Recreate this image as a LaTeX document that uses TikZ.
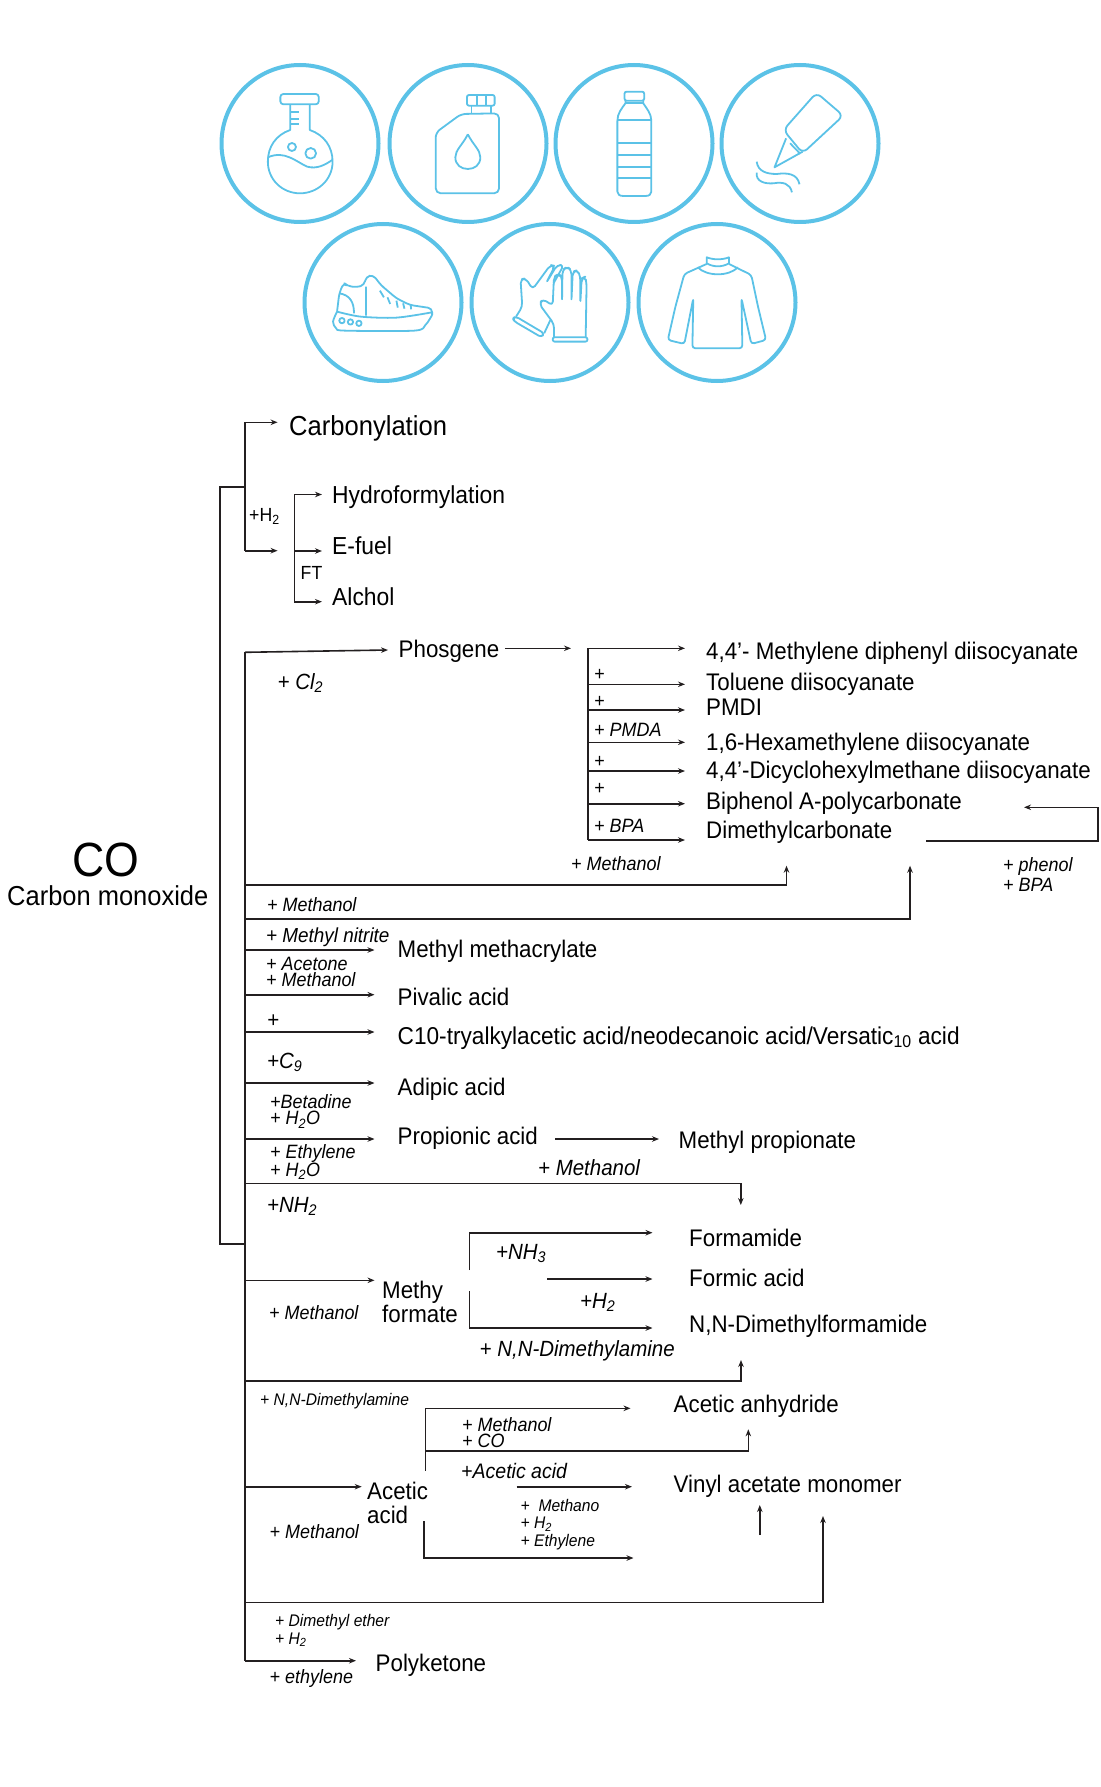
\documentclass[tikz,border=0pt]{standalone}
\usepackage{fontspec}
\setmainfont[FakeStretch=0.93]{Liberation Sans}
\usepackage{xcolor}
\usetikzlibrary{positioning, arrows, arrows.meta}
\definecolor{badgeblue}{HTML}{5BC2E7}
\definecolor{inkblack}{HTML}{231F20}
\tikzset{
  line/.style={draw=inkblack, line width=1.6pt},
  flow/.style={line, -{Stealth[length=7pt, width=5.5pt]}},
  badge/.style={circle, draw=badgeblue, line width=4pt, minimum size=157pt, inner sep=0pt},
  icon/.style={draw=badgeblue, line width=1.8pt, line join=round},
  txt/.style={anchor=west, inner sep=0pt, yshift=-1.5pt},
  head/.style={txt, text height=19pt, text depth=6pt, font=\fontsize{27.5}{27.5}\selectfont},
  product/.style={txt, text height=18pt, text depth=5pt, font=\fontsize{24}{24}\selectfont},
  productbig/.style={product, font=\fontsize{24.6}{24.6}\selectfont},
  twoline/.style={txt, align=left, font=\fontsize{24}{24.5}\selectfont},
  plain/.style={txt, font=\fontsize{19}{19}\selectfont},
  reagent/.style={txt, align=left, font=\fontsize{19.3}{16}\itshape\selectfont},
  reagentbig/.style={txt, font=\fontsize{22}{22}\itshape\selectfont},
  reagentsmall/.style={txt, align=left, font=\fontsize{16.8}{17.5}\itshape\selectfont},
}
\begin{document}
\begin{tikzpicture}[x=1pt, y=-1pt]
  \useasboundingbox (0,0) rectangle (1100,1787);

  % product badges
  \node[badge] (flask) at (300,143.5) {};
  \node[badge] (can) at (468,143.5) {};
  \node[badge] (bottle) at (634,143.5) {};
  \node[badge] (glue) at (800,143.5) {};
  \node[badge] (shoe) at (383,302.5) {};
  \node[badge] (gloves) at (550,302.5) {};
  \node[badge] (sweater) at (717,302.5) {};

  % icons, in crop coordinates
  \begin{scope}[shift={(200,50)}, x=0.4464pt, y=-0.3333pt, icon]
    \draw[rounded corners=3pt] (180,132) rectangle (266,163);
    \draw (202,163) -- (202,240) .. controls (170,255) and (152,290) .. (152,335)
      .. controls (152,390) and (185,430) .. (224,430)
      .. controls (263,430) and (297,390) .. (297,335)
      .. controls (297,290) and (278,255) .. (246,240) -- (246,163);
    \draw (202,185) -- (222,185) (202,207) -- (222,207) (202,222) -- (222,222);
    \draw (152,322) .. controls (190,300) and (215,335) .. (240,350) .. controls (262,358) and (280,345) .. (296,330);
    \draw (206,291) ellipse [x radius=9, y radius=12];
    \draw (248,310) ellipse [x radius=12, y radius=16];
    % can
    \draw[rounded corners=2pt] (598,135) rectangle (660,167);
    \draw (620,135) -- (620,167) (640,135) -- (640,167) (608,167) -- (608,190) (652,167) -- (652,190);
    \draw[rounded corners=5pt] (585,192) -- (670,190) -- (670,430) -- (528,430) -- (528,248) -- cycle;
    \draw (600,253) .. controls (588,285) and (572,300) .. (572,322) .. controls (572,345) and (585,357) .. (600,357)
      .. controls (615,357) and (628,345) .. (628,322) .. controls (628,300) and (612,285) .. (600,253);
    % bottle
    \draw[rounded corners=2pt] (951,125) rectangle (995,152);
    \draw (953,152) -- (953,160) .. controls (945,175) and (935,190) .. (935,212) -- (935,425)
      .. controls (935,433) and (940,438) .. (948,438) -- (998,438) .. controls (1006,438) and (1011,433) .. (1011,425)
      -- (1011,212) .. controls (1011,190) and (1000,175) .. (993,160) -- (993,152);
    \draw (953,160) -- (993,160) (935,210) -- (1011,210) (935,280) -- (1011,280) (935,315) -- (1011,315)
      (935,350) -- (1011,350) (935,385) -- (1011,385);
    % glue
    \draw[rounded corners=6pt] (1381,128) -- (1441,197) -- (1350,310) -- (1307,240) -- cycle;
    \draw (1313,265) -- (1287,352) -- (1350,305) (1322,280) -- (1345,312);
    \draw (1247,335) .. controls (1250,365) and (1270,372) .. (1292,372) .. controls (1315,368) and (1338,370) .. (1343,403);
    \draw (1247,368) .. controls (1245,395) and (1265,402) .. (1285,400) .. controls (1305,395) and (1322,400) .. (1326,427);
    % shoe
    \draw plot[smooth] coordinates {(307,785) (298,815) (305,835) (325,842) (480,842) (505,825) (520,795)};
    \draw[rounded corners=4pt] (520,795) -- (520,775) -- (470,765) -- (440,745) -- (405,705) -- (388,675) -- (372,680) -- (368,705)
      -- (352,712) -- (330,708) -- (322,698) -- (312,730) -- (307,785);
    \draw plot[smooth] coordinates {(307,785) (360,800) (440,803) (520,787)};
    \draw (312,730) .. controls (335,735) and (345,755) .. (345,790) (372,710) -- (372,797);
    \draw (403,722) -- (412,742) (420,742) -- (426,762) (440,752) -- (443,773) (455,760) -- (458,776) (472,765) -- (473,778);
    \draw (318,812) ellipse [x radius=6, y radius=8] (337,816) ellipse [x radius=6, y radius=8] (356,820) ellipse [x radius=6, y radius=8];
    % gloves
    \draw[rounded corners=3pt] (700,805) -- (705,815) -- (765,862) -- (771,850) -- (708,800) -- cycle;
    \draw[rounded corners=4pt] (708,800) -- (722,770) -- (718,688) -- (730,685) -- (745,718) -- (785,645) -- (795,648) -- (775,700) -- (800,645) -- (815,645) -- (792,700)
      (771,850) -- (785,810);
    \draw[rounded corners=4pt] (793,862) -- (793,822) -- (760,762) -- (768,747) -- (790,767) -- (793,680) -- (803,672) -- (811,680) -- (811,755)
      -- (812,660) -- (822,650) -- (832,660) -- (832,755) -- (835,665) -- (846,660) -- (852,680) -- (852,760) -- (855,685) -- (863,680) -- (866,700) -- (864,862);
    \draw[rounded corners=2pt] (790,862) rectangle (868,875);
    % sweater
    \draw (1135,622) .. controls (1150,630) and (1170,630) .. (1185,622) -- (1185,640) .. controls (1170,652) and (1150,652) .. (1135,640) -- cycle;
    \draw (1115,652) .. controls (1135,680) and (1185,680) .. (1205,652);
    \draw[rounded corners=3pt] (1135,642) -- (1085,672) -- (1065,770) -- (1048,870) -- (1085,882) -- (1105,745) -- (1103,895) -- (1215,895) -- (1213,745) -- (1235,882) -- (1268,870) -- (1250,770) -- (1235,675) -- (1185,642);
  \end{scope}

  % labels
  \draw
    (7,894.5) node[txt, font=\fontsize{27.4}{27.4}\selectfont] (comono){Carbon monoxide}
    (106,860) node[inner sep=0pt, font=\fontsize{48}{48}\selectfont] (co){CO}
    (289,427) node[head] (carbonylation){Carbonylation}
    (332,495) node[productbig] (hydroform){Hydroformylation}
    (332,546) node[productbig] (efuel){E-fuel}
    (332,597) node[productbig] (alchol){Alchol}
    (398.5,649) node[product] (phosgene){Phosgene}
    (706,651) node[product] (mdi){4,4'- Methylene diphenyl diisocyanate}
    (706,682) node[product] (tdi){Toluene diisocyanate}
    (706,707) node[product] (pmdi){PMDI}
    (706,742) node[product] (hdi){1,6-Hexamethylene diisocyanate}
    (706,770) node[product] (hmdi){4,4'-Dicyclohexylmethane diisocyanate}
    (706,801) node[product] (bpapc){Biphenol A-polycarbonate}
    (706,830) node[product] (dmc){Dimethylcarbonate}
    (397.5,949) node[product] (mma){Methyl methacrylate}
    (397.5,997) node[product] (pivalic){Pivalic acid}
    (397.5,1036) node[product, font=\fontsize{24.35}{24}\selectfont] (versatic){C10-tryalkylacetic acid/neodecanoic acid/Versatic\textsubscript{10} acid}
    (397.5,1087) node[product] (adipic){Adipic acid}
    (397.5,1136) node[product] (propionic){Propionic acid}
    (678.5,1140) node[product] (mepropionate){Methyl propionate}
    (382,1300.5) node[twoline] (mformate){Methy\\formate}
    (689,1238) node[product] (formamide){Formamide}
    (689,1278) node[product] (formic){Formic acid}
    (689,1324) node[product] (dmf){N,N-Dimethylformamide}
    (367,1501.5) node[twoline] (aceticacid){Acetic\\acid}
    (673.5,1404) node[product] (anhydride){Acetic anhydride}
    (673.5,1484) node[product] (vam){Vinyl acetate monomer}
    (375.5,1663) node[product] (polyketone){Polyketone};

  % reagents
  \draw
    (249,515) node[plain] (rhtwo){+H\textsubscript{2}}
    (300.5,571) node[plain] (rft){FT}
    (277.5,681.5) node[reagentbig] (rcl){+ Cl\textsubscript{2}}
    (594,673) node[reagent] (rplusa){+}
    (594,700) node[reagent] (rplusb){+}
    (594,728) node[reagent] (rpmda){+ PMDA}
    (594,760) node[reagent] (rplusc){+}
    (594,787) node[reagent] (rplusd){+}
    (594,824.5) node[reagent] (rbpa){+ BPA}
    (571,862) node[reagent] (rmeoha){+ Methanol}
    (1003,873) node[reagent] (rphenol){+ phenol\\[2pt]+ BPA}
    (267,903) node[reagent] (rmeohb){+ Methanol}
    (266,936) node[reagent, font=\fontsize{20.3}{16}\itshape\selectfont] (rnitrite){+ Methyl nitrite}
    (266,970) node[reagent] (racetone){+ Acetone\\+ Methanol}
    (267,1020) node[reagentbig] (rpluse){+}
    (267,1061) node[reagentbig] (rcnine){+C\textsubscript{9}}
    (270,1110) node[reagent] (rbetadine){+Betadine\\+ H\textsubscript{2}O}
    (270,1160.5) node[reagent] (rethylene){+ Ethylene\\+ H\textsubscript{2}O}
    (538,1166) node[reagentbig] (rmeohc){+ Methanol}
    (267,1205) node[reagentbig] (rnhtwo){+NH\textsubscript{2}}
    (496,1252) node[reagentbig] (rnhthree){+NH\textsubscript{3}}
    (580,1301) node[reagentbig] (rhtwob){+H\textsubscript{2}}
    (269,1311) node[reagent] (rmeohd){+ Methanol}
    (479.5,1349) node[reagentbig] (rdma){+ N,N-Dimethylamine}
    (260,1400) node[reagentsmall] (rdmab){+ N,N-Dimethylamine}
    (462,1431) node[reagent] (rmeohe){+ Methanol\\+ CO}
    (461,1469) node[reagent, font=\fontsize{21}{16}\itshape\selectfont] (racetic){+Acetic acid}
    (520.5,1523) node[reagentsmall] (rmeohf){+ \ Methano\\+ H\textsubscript{2}\\+ Ethylene}
    (269.5,1530) node[reagent] (rmeohg){+ Methanol}
    (275,1629) node[reagentsmall] (rdme){+ Dimethyl ether\\+ H\textsubscript{2}}
    (269.5,1677) node[reagent] (rethyleneb){+ ethylene};

  % junctions
  \foreach \n/\x/\y in {
    outa/219.5/487, outb/219.5/1243.5, cta/245/422.3, ctb/245/487, ctc/245/550.7, ctd/277.6/550.7,
    fta/294.3/494.5, ftb/294.3/551, ftc/294.3/601.7,
    tra/245/652.3, trb/245/885, trc/245/918.7, trd/245/950, tre/245/994.7, trf/245/1032, trg/245/1083,
    trh/245/1139, tri/245/1183.3, trj/245/1243.5, trk/245/1280.3, trl/245/1380.7, trm/245/1486.7, trn/245/1602.3, tro/245/1660.7,
    phin/388/650,
    isoa/588/648.3, isob/588/684.3, isoc/588/710, isod/588/742.3, isoe/588/771, isof/588/803.7, isog/588/840,
    loopa/926/841, loopb/1098/841, loopc/1098/807.3, loopd/1024/807.3,
    meoha/786.5/885, meohb/786.5/865.7, meohc/910/918.7, meohd/910/865.7,
    nha/740.8/1183.3, nhb/740.8/1205, dmaa/741/1380.7, dmab/741/1360,
    fma/469.4/1270, fmb/469.4/1232.7, fmc/652.5/1232.7, fmd/547/1279, fme/469.4/1291, fmf/469.4/1328, fmg/652.5/1328,
    aca/425.4/1470.7, acb/425.4/1408.3, acc/630.6/1408.3, acd/425.4/1450.7, ace/748.3/1450.7, acf/748.3/1429.3,
    acg/516.7/1486.7, ach/424/1521, aci/424/1558, acj/633.5/1558,
    vaa/759.8/1535, vab/759.8/1505, vac/823/1602.3, vad/823/1516
  }{
    \coordinate (\n) at (\x,\y);
  }

  \begin{scope}[line]
    \draw[line width=2pt] (ctb) -- (outa) -- (outb) -- (trj);
    \draw (cta) -- (ctc);
    \draw (fta) -- (ftc);
    \draw (tra) -- (tro);
    \draw (isoa) -- (isog);
    \draw (fma) -- (fmb);
    \draw (fme) -- (fmf);
    \draw (aca) -- (acb);
  \end{scope}

  % arrows running into a label
  \foreach \from/\to/\gap in {
    cta/carbonylation/11.4, fta/hydroform/10, ftb/efuel/10, ftc/alchol/10,
    isoa/mdi/21, isob/tdi/21, isoc/pmdi/21, isod/hdi/21, isoe/hmdi/21, isof/bpapc/21, isog/dmc/21,
    trd/mma/23, tre/pivalic/23, trf/versatic/23, trg/adipic/23, trh/propionic/23,
    fmb/formamide/36.5, fmd/formic/36.5, fmf/dmf/36.5,
    trk/mformate/7.5, trm/aceticacid/5.3, acb/anhydride/43, acg/vam/41.5, tro/polyketone/19.5
  }{
    \draw[flow, shorten >=\gap pt] (\from) -- (\from -| \to.west);
  }

  % free arrows
  \draw[flow] (ctc) -- (ctd);
  \draw[flow] (tra) -- (phin);
  \draw[flow, shorten <=5.5pt, shorten >=17pt] (isoa -| phosgene.east) -- (isoa);
  \draw[flow] (loopa) -- (loopb) -- (loopc) -- (loopd);
  \draw[flow] (trb) -- (meoha) -- (meohb);
  \draw[flow] (trc) -- (meohc) -- (meohd);
  \draw[flow, shorten <=17pt, shorten >=19.5pt] (propionic.east |- trh) -- (trh -| mepropionate.west);
  \draw[flow] (tri) -- (nha) -- (nhb);
  \draw[flow] (trl) -- (dmaa) -- (dmab);
  \draw[flow] (acd) -- (ace) -- (acf);
  \draw[flow] (ach) -- (aci) -- (acj);
  \draw[flow] (vaa) -- (vab);
  \draw[flow] (trn) -- (vac) -- (vad);
\end{tikzpicture}
\end{document}
